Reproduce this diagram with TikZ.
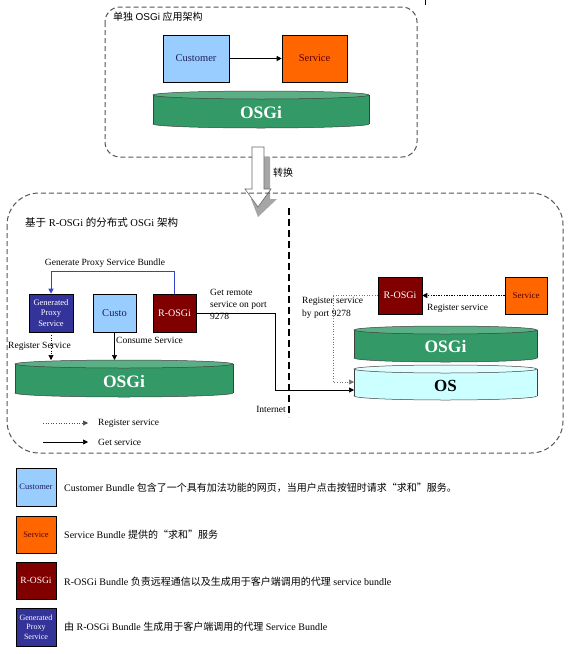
\documentclass[tikz,border=0pt]{standalone}
\usepackage{fontspec}
\setmainfont{Liberation Serif}
\newfontfamily\cjk{Noto Sans CJK SC}
\newfontfamily\sansf{Liberation Sans}
\usetikzlibrary{arrows.meta}
\definecolor{custblue}{HTML}{99CCFF}
\definecolor{servorange}{HTML}{FF6600}
\definecolor{rosgired}{HTML}{800000}
\definecolor{genblue}{HTML}{333399}
\definecolor{linkblue}{HTML}{3344CC}
\definecolor{osgibody}{HTML}{339966}
\definecolor{osgitop}{HTML}{5BAF85}
\definecolor{osbody}{HTML}{CCFFFF}
\definecolor{ostop}{HTML}{E2FFFF}
\definecolor{boxgray}{HTML}{555555}
\newcommand\drawcyl[6]{%
  \pgfmathsetmacro\cylcx{(#1+#2)/2}%
  \pgfmathsetmacro\cylrx{(#2-#1)/2}%
  \filldraw[cylline, fill=#5] (\cylcx,#4-4) ellipse [x radius=\cylrx pt, y radius=4pt];
  \fill[#5] (#1,#3+4) rectangle (#2,#4-4);
  \draw[cylline] (#1,#3+4) -- (#1,#4-4) (#2,#3+4) -- (#2,#4-4);
  \filldraw[cylline, fill=#6] (\cylcx,#3+4) ellipse [x radius=\cylrx pt, y radius=4pt];
}
\tikzset{
  cylline/.style={draw=black!75, line width=0.5pt},
  bundle/.style={draw=black, line width=0.6pt, inner sep=0pt, align=center},
  areabox/.style={draw=boxgray, line width=1pt, dash pattern=on 5pt off 3pt},
  tip/.style={-{Triangle[length=5pt,width=5pt]}},
  getline/.style={tip, draw=black, line width=0.7pt},
  regline/.style={tip, draw=black, line width=0.6pt, dotted},
  lbl/.style={inner sep=0pt, font=\fontsize{9.5}{12}\selectfont},
  desc/.style={inner sep=0pt, font=\fontsize{10}{12}\selectfont},
  osgitext/.style={text=white, font=\fontsize{17.5}{20}\selectfont\bfseries},
}
\begin{document}
\begin{tikzpicture}[x=1pt,y=-1pt]
\useasboundingbox (0,0) rectangle (571,654);
\fill[white] (0,0) rectangle (571,654);
\draw[line width=1pt] (425,0) -- (425,5);

% top area
\draw[areabox, rounded corners=15pt] (105,7) rectangle (417,157);
\node[lbl, anchor=west, font=\fontsize{10}{12}\selectfont] (t1) at (113,17) {{\cjk 单独} {\sansf OSGi} {\cjk 应用架构}};
\node[bundle, fill=custblue, minimum width=66pt, minimum height=47pt, text=genblue!60!black, font=\fontsize{10.5}{12}\selectfont] (cust) at (196,58.5) {Customer};
\node[bundle, fill=servorange, minimum width=65pt, minimum height=47pt, text=rosgired!70!black, font=\fontsize{10.5}{12}\selectfont] (serv) at (314.5,58.5) {Service};
\draw[getline] (cust) -- (serv);
\drawcyl{153}{369}{91}{128}{osgibody}{osgitop}
\node[osgitext] (osgiA) at (261,113) {OSGi};

% conversion arrow
\fill[black!35] (258,217) -- (277,199) -- (270,199) -- (270,157) -- (258,157) -- (258,199) -- (251,199) -- cycle;
\filldraw[draw=black!60, fill=white, line width=0.6pt] (258,207) -- (271,189) -- (264,189) -- (264,147) -- (252,147) -- (252,189) -- (245,189) -- cycle;
\node[lbl, anchor=west, font=\fontsize{10}{12}\selectfont\cjk] (conv) at (273,173) {转换};

% distributed area
\draw[areabox, rounded corners=32pt] (7,193) rectangle (563,453);
\node[lbl, anchor=west, font=\fontsize{10.5}{12}\selectfont] (t2) at (25,223) {{\cjk 基于} R-OSGi {\cjk 的分布式} OSGi {\cjk 架构}};
\node[lbl] (genlbl) at (105,263) {Generate Proxy Service Bundle};
\node[bundle, fill=genblue, text=white, minimum width=44pt, minimum height=38pt, font=\fontsize{8.5}{10.5}\selectfont] (gen) at (51,313) {Generated\\Proxy\\Service};
\node[bundle, fill=custblue, minimum width=43pt, minimum height=38pt, text=genblue!60!black, font=\fontsize{10.5}{12}\selectfont] (custo) at (114.5,313) {Custo};
\node[bundle, fill=rosgired, text=white, minimum width=43pt, minimum height=38pt, font=\fontsize{10}{12}\selectfont] (rosgiL) at (174.5,313) {R-OSGi};
\draw[tip, draw=linkblue, line width=0.8pt] (rosgiL.north) -- ++(0,-22) -| (gen.north);
\drawcyl{15}{233}{360}{397}{osgibody}{osgitop}
\node[osgitext] (osgiB) at (124,382) {OSGi};
\coordinate (genin) at (51,360);
\coordinate (custin) at (114.5,360);
\draw[regline] (gen.south) -- (genin);
\draw[getline] (custo.south) -- (custin);
\node[lbl, anchor=west] (reglbl) at (8,346) {Register Service};
\node[lbl, anchor=west] (conslbl) at (116,340) {Consume Service};
\node[lbl, anchor=north west, align=left] (getlbl) at (210,289) {Get remote\\service on port\\9278};

% right side
\drawcyl{354}{537}{326}{362}{osgibody}{osgitop}
\node[osgitext] (osgiC) at (445.5,347) {OSGi};
\drawcyl{354}{537}{365}{400}{osbody}{ostop}
\node[font=\fontsize{17}{20}\selectfont\bfseries] (os) at (445.5,386) {OS};
\node[bundle, fill=rosgired, text=white, minimum width=44pt, minimum height=37pt, font=\fontsize{10}{12}\selectfont] (rosgiR) at (400,295.5) {R-OSGi};
\node[bundle, fill=servorange, minimum width=42pt, minimum height=37pt, text=rosgired!70!black, font=\fontsize{9}{12}\selectfont] (servR) at (526,295.5) {Service};
\draw[tip, line width=1.8pt, dash pattern=on 1.4pt off 1.2pt] (servR.west) -- (rosgiR.east);
\node[lbl, anchor=west] (reg2) at (427,308) {Register service};
\coordinate (osin1) at (354,382);
\coordinate (osin2) at (354,390);
\draw[tip, draw=black!55, line width=0.6pt, dotted] (rosgiR.west) -- (333,295.5) |- (osin1);
\node[lbl, anchor=north west, align=left, font=\fontsize{9.5}{13}\selectfont] (reg3) at (302,297) {Register service\\by port 9278};
\draw[getline] (rosgiL.east) -- (275,313) |- (osin2);
\draw[line width=1.6pt, dash pattern=on 7pt off 4pt] (289,208) -- (289,417);
\node[lbl, anchor=east] (inet) at (286,409) {Internet};

% legend arrows
\coordinate (la1) at (43,423); \coordinate (lb1) at (88,423);
\coordinate (la2) at (43,442); \coordinate (lb2) at (88,442);
\draw[regline, draw=black!70] (la1) -- (lb1);
\draw[getline] (la2) -- (lb2);
\node[lbl, anchor=west] (lg1) at (98,423) {Register service};
\node[lbl, anchor=west] (lg2) at (98,442) {Get service};

% legend bundles
\node[bundle, fill=custblue, minimum width=40pt, minimum height=38pt, text=genblue!60!black, font=\fontsize{8.5}{10}\selectfont] (k1) at (36,487) {Customer};
\node[bundle, fill=servorange, minimum width=40pt, minimum height=37pt, text=rosgired!70!black, font=\fontsize{8.5}{10}\selectfont] (k2) at (36,534.5) {Service};
\node[bundle, fill=rosgired, text=white, minimum width=40pt, minimum height=37pt, font=\fontsize{9.5}{10}\selectfont] (k3) at (36,580.5) {R-OSGi};
\node[bundle, fill=genblue, text=white, minimum width=40pt, minimum height=38pt, font=\fontsize{8}{9.5}\selectfont] (k4) at (36,627) {Generated\\Proxy\\Service};
\node[desc, anchor=west] (d1) at (64,488) {Customer Bundle {\cjk 包含了一个具有加法功能的网页，当用户点击按钮时请求“求和”服务。}};
\node[desc, anchor=west] (d2) at (64,535) {Service Bundle {\cjk 提供的“求和”服务}};
\node[desc, anchor=west] (d3) at (64,582) {R-OSGi Bundle {\cjk 负责远程通信以及生成用于客户端调用的代理} service bundle};
\node[desc, anchor=west] (d4) at (64,627) {{\cjk 由} R-OSGi Bundle {\cjk 生成用于客户端调用的代理} Service Bundle};
\end{tikzpicture}
\end{document}
